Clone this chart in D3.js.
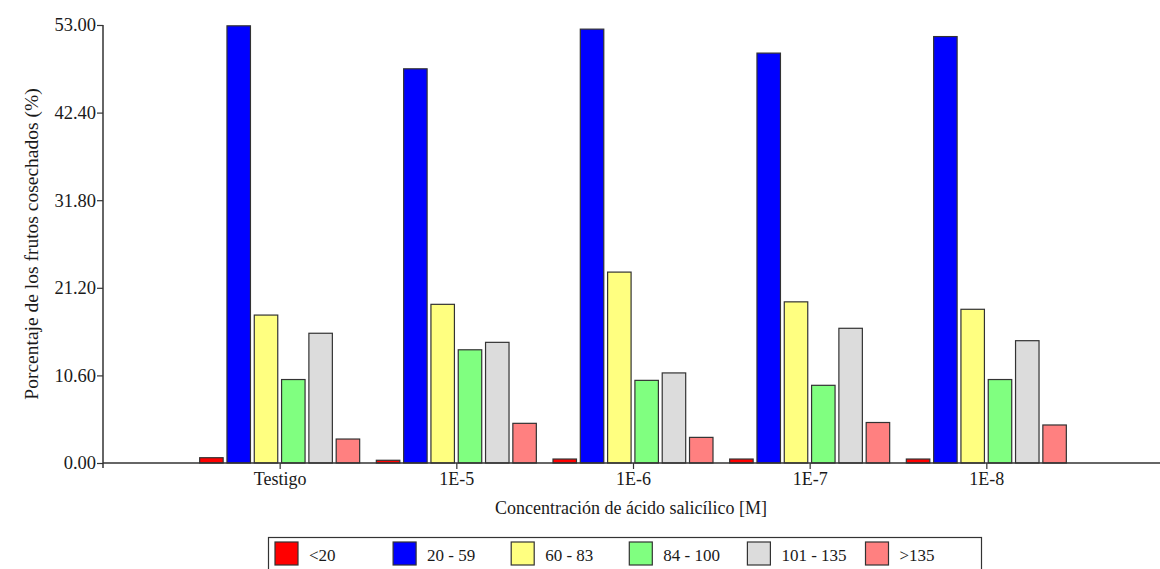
<!DOCTYPE html>
<html>
<head>
<meta charset="utf-8">
<script src="https://cdn.jsdelivr.net/npm/d3@7"></script>
<style>
  html, body { margin: 0; padding: 0; background: #fff; }
  svg { display: block; }
</style>
</head>
<body>
<svg id="chart" width="1160" height="569"></svg>
<script>
const categories = ["Testigo", "1E-5", "1E-6", "1E-7", "1E-8"];
const seriesNames = ["<20", "20 - 59", "60 - 83", "84 - 100", "101 - 135", ">135"];
const seriesColors = ["#FF0000", "#0000FF", "#FFFF80", "#80FF80", "#DCDCDC", "#FF8080"];
// values per series, one per category
const sLt20   = [0.64, 0.33, 0.48, 0.48, 0.48];
const s20_59  = [52.9, 47.7, 52.5, 49.6, 51.6];
const s60_83  = [17.9, 19.2, 23.1, 19.5, 18.6];
const s84_100 = [10.1, 13.7, 10.0, 9.4, 10.1];
const s101_135 = [15.7, 14.6, 10.9, 16.3, 14.8];
const sGt135  = [2.9, 4.8, 3.1, 4.9, 4.6];
const yTickValues = [0, 10.6, 21.2, 31.8, 42.4, 53.0];
const yTitle = "Porcentaje de los frutos cosechados (%)";
const xTitle = "Concentración de ácido salicílico [M]";

const seriesValues = [sLt20, s20_59, s60_83, s84_100, s101_135, sGt135];

const FONT = "'Liberation Serif', 'Times New Roman', serif";
const svg = d3.select("#chart");
const axisColor = "#333";
const textColor = "#1a1a1a";

const x0 = 103, x1 = 1163, yTop = 25, yBot = 463;

const x = d3.scalePoint().domain(categories).range([x0, x1]).padding(1);
const inner = d3.scaleBand().domain(seriesNames).range([-80, 80]).paddingInner(0.14);
const y = d3.scaleLinear().domain([0, 53]).range([yBot, yTop]);

// bars
const data = [];
categories.forEach((c, ci) => {
  seriesNames.forEach((s, si) => {
    data.push({ cat: c, ser: s, val: seriesValues[si][ci], color: seriesColors[si] });
  });
});

svg.append("g").selectAll("rect").data(data).join("rect")
  .attr("x", d => x(d.cat) + inner(d.ser))
  .attr("y", d => y(d.val))
  .attr("width", inner.bandwidth())
  .attr("height", d => y(0) - y(d.val))
  .attr("fill", d => d.color)
  .attr("stroke", "#333")
  .attr("stroke-width", 1.2);

// y axis
const yAxis = d3.axisLeft(y).tickValues(yTickValues).tickFormat(d3.format(".2f")).tickSize(6).tickPadding(1);
const gy = svg.append("g").attr("transform", `translate(${x0},0)`).call(yAxis);
gy.select(".domain").remove();
gy.append("line").attr("x1", 0).attr("x2", 0).attr("y1", yTop).attr("y2", yBot + 5)
  .attr("stroke", axisColor).attr("stroke-width", 1.5);
gy.selectAll(".tick line").attr("stroke", axisColor).attr("stroke-width", 1.2);
gy.selectAll(".tick text").style("font-family", FONT).style("font-size", "18.5px").attr("fill", textColor);

// x axis
const xAxis = d3.axisBottom(x).tickSize(6).tickPadding(3);
const gx = svg.append("g").attr("transform", `translate(0,${yBot})`).call(xAxis);
gx.select(".domain").remove();
gx.append("line").attr("x1", x0).attr("x2", 1160).attr("y1", 0).attr("y2", 0)
  .attr("stroke", axisColor).attr("stroke-width", 1.5);
gx.selectAll(".tick line").attr("stroke", axisColor).attr("stroke-width", 1.2);
gx.selectAll(".tick text").style("font-family", FONT).style("font-size", "18px").attr("fill", textColor);

// axis titles
svg.append("text")
  .attr("transform", `translate(38,${(yTop + yBot) / 2}) rotate(-90)`)
  .attr("text-anchor", "middle")
  .style("font-family", FONT)
  .style("font-size", "19.5px")
  .attr("fill", textColor)
  .text(yTitle);

svg.append("text")
  .attr("x", 631).attr("y", 514)
  .attr("text-anchor", "middle")
  .style("font-family", FONT)
  .style("font-size", "18px")
  .attr("fill", textColor)
  .text(xTitle);

// legend
const lg = svg.append("g");
lg.append("rect").attr("x", 268.5).attr("y", 537.5).attr("width", 713).attr("height", 40)
  .attr("fill", "#fff").attr("stroke", "#333").attr("stroke-width", 1.2);
const legX = d3.scalePoint().domain(seriesNames).range([275, 865.5]);
const items = lg.selectAll("g.item").data(seriesNames).join("g").attr("class", "item")
  .attr("transform", d => `translate(${legX(d)},542)`);
items.append("rect").attr("width", 23).attr("height", 23)
  .attr("fill", (d, i) => seriesColors[i]).attr("stroke", "#333").attr("stroke-width", 1.2);
items.append("text").attr("x", 34).attr("y", 19)
  .style("font-family", FONT).style("font-size", "17px").attr("fill", textColor)
  .text(d => d);
</script>
</body>
</html>
